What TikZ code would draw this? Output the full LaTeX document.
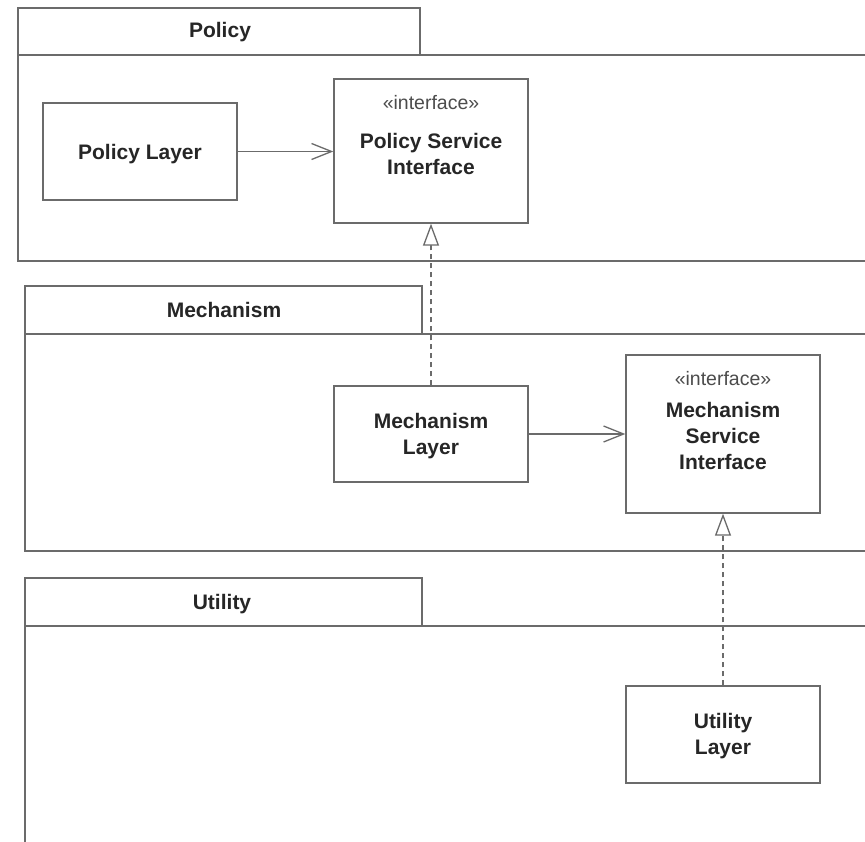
\documentclass[tikz,border=0pt]{standalone}
\usepackage{fontspec}
\setmainfont{Liberation Sans}
\usetikzlibrary{arrows.meta}
\definecolor{linegray}{gray}{0.42}
\tikzset{
  pkg/.style={draw=linegray, line width=1.4pt},
  cls/.style={draw=linegray, line width=1.4pt, fill=white, minimum width=194pt, inner sep=0pt},
  lbl/.style={font=\fontsize{21}{26}\selectfont\bfseries, align=center, text=black!85, inner sep=0pt},
  stereo/.style={font=\fontsize{19.5}{24}\selectfont, text=black!70, inner sep=0pt},
  dep/.style={draw=linegray, line width=1.3pt, -{Straight Barb[length=20pt,width=16pt,line width=1.3pt]}},
  real/.style={draw=linegray, line width=1.3pt, dash pattern=on 5pt off 4pt,
    -{Triangle[open, length=22pt, width=16pt, line width=1.3pt, fill=white]}}
}
\begin{document}
\begin{tikzpicture}[x=1pt,y=-1pt]
\useasboundingbox (0,0) rectangle (865,842);
\clip (0,0) rectangle (865,842);
\fill[white] (0,0) rectangle (865,842);

% Policy package
\draw[pkg] (18,8) rectangle (420,55);
\draw[pkg] (870,55) -- (18,55) -- (18,261) -- (870,261);
\node[lbl] (policytab) at (220,32) {Policy};

% Mechanism package
\draw[pkg] (25,286) rectangle (422,334);
\draw[pkg] (870,334) -- (25,334) -- (25,551) -- (870,551);
\node[lbl] (mechtab) at (224,310) {Mechanism};

% Utility package
\draw[pkg] (25,578) rectangle (422,626);
\draw[pkg] (870,626) -- (25,626) -- (25,850);
\node[lbl] (utiltab) at (222,604) {Utility};

% Classes
\node[cls, minimum height=97pt] (pl) at (140,151.5) {};
\node[lbl] (pltext) at (140,154) {Policy Layer};

\node[cls, minimum height=144pt] (psi) at (431,151) {};
\node[stereo] (psist) at (431,103) {«interface»};
\node[lbl] (psitext) at (431,154) {Policy Service\\Interface};

\node[cls, minimum height=96pt] (ml) at (431,434) {};
\node[lbl] (mltext) at (431,436) {Mechanism\\Layer};

\node[cls, minimum height=158pt] (msi) at (723,434) {};
\node[stereo] (msist) at (723,379) {«interface»};
\node[lbl] (msitext) at (723,436) {Mechanism\\Service\\Interface};

\node[cls, minimum height=97pt] (ul) at (723,734.5) {};
\node[lbl] (ultext) at (723,736) {Utility\\Layer};

% Connectors
\draw[dep] (pl.east) -- (pl.east -| psi.west);
\draw[dep] (ml.east) -- (ml.east -| msi.west);
\draw[real] (ml.north) -- (psi.south);
\draw[real] (ul.north) -- (msi.south);
\end{tikzpicture}
\end{document}
